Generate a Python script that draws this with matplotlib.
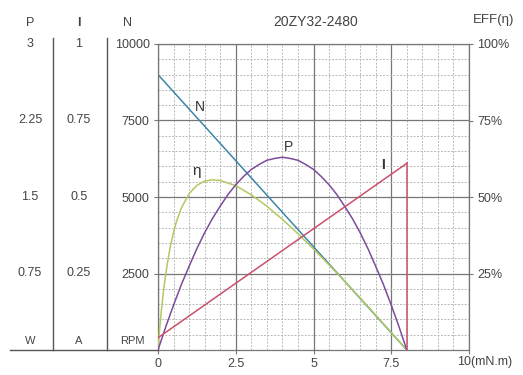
import matplotlib.pyplot as plt
import matplotlib.transforms as mtransforms
import numpy as np

plt.rcParams['font.family'] = ['Liberation Sans', 'DejaVu Sans']

###############################################################################
# Data
###############################################################################
title = '20ZY32-2480'

# torque (mN.m) for speed / current lines
torque_lin = [0, 8]
speed_rpm = [9000, 0]
current_a = [0.04, 0.61]

# output power curve (W)
torque_p = [0, 0.25, 0.5, 0.75, 1, 1.25, 1.5, 1.75, 2, 2.25, 2.5, 2.75, 3,
            3.25, 3.5, 3.75, 4, 4.25, 4.5, 4.75, 5, 5.25, 5.5, 5.75, 6, 6.25,
            6.5, 6.75, 7, 7.25, 7.5, 7.75, 8]
power_w = [0, 0.228, 0.44, 0.641, 0.82, 0.994, 1.15, 1.289, 1.41, 1.524, 1.62,
           1.701, 1.77, 1.819, 1.86, 1.878, 1.89, 1.878, 1.86, 1.819, 1.77,
           1.701, 1.62, 1.524, 1.41, 1.289, 1.15, 0.994, 0.82, 0.641, 0.44,
           0.228, 0]

# efficiency curve (%)
torque_eff = [0, 0.05, 0.1, 0.15, 0.2, 0.3, 0.4, 0.5, 0.6, 0.75, 1, 1.25, 1.5,
              1.75, 2, 2.5, 3, 3.5, 4, 4.5, 5, 5.5, 6, 6.5, 7, 7.5, 8]
eff_pct = [0, 6.5, 12.0, 16.9, 21.2, 28.3, 34.0, 38.5, 42.2, 46.4, 51.1, 53.8,
           55.2, 55.6, 55.4, 53.7, 50.7, 47.0, 42.7, 38.0, 33.0, 27.8, 22.5,
           17.0, 11.4, 5.7, 0]

x_ticks = [0, 2.5, 5, 7.5, 10]
x_labels = ['0', '2.5', '5', '7.5', '']
n_ticks = [2500, 5000, 7500, 10000]
p_labels = ['0.75', '1.5', '2.25', '3']
i_labels = ['0.25', '0.5', '0.75', '1']
eff_ticks = [25, 50, 75, 100]
eff_labels = ['25%', '50%', '75%', '100%']

###############################################################################
# Figure
###############################################################################
txt = '#444444'
fig = plt.figure(figsize=(5.23, 3.75), dpi=100)
ax = fig.add_axes([158 / 523, 25 / 375, 311 / 523, 306 / 375])

ax.set_xlim(0, 10)
ax.set_ylim(0, 10000)
ax.set_xticks(x_ticks)
ax.set_xticklabels(x_labels)
ax.set_xticks(np.arange(0, 10.01, 0.5), minor=True)
ax.set_yticks(n_ticks)
ax.set_yticks(np.arange(0, 10001, 500), minor=True)
ax.tick_params(axis='both', which='major', length=3, color='#777777',
               labelsize=9, labelcolor=txt, pad=3)
ax.tick_params(axis='both', which='minor', length=0)
ax.grid(which='major', color='#777777', lw=0.9)
ax.grid(which='minor', color='#b8b8b8', lw=0.7, ls=(0, (2, 1.5)))
for s in ax.spines.values():
    s.set_color('#777777')
    s.set_linewidth(0.9)
ax.set_axisbelow(True)

ax.annotate('10(mN.m)', xy=(10, 0), xytext=(-8.5, -4), textcoords='offset points',
            ha='left', va='top', fontsize=9, color=txt)

# right efficiency axis
ax_e = ax.twinx()
ax_e.set_ylim(0, 100)
ax_e.set_yticks(eff_ticks)
ax_e.set_yticklabels(eff_labels)
ax_e.tick_params(axis='y', length=3, color='#777777', labelsize=9,
                 labelcolor=txt, pad=3)
for s in ax_e.spines.values():
    s.set_visible(False)

# hidden axes for power and current scales
ax_p = ax.twinx()
ax_p.set_ylim(0, 3)
ax_p.axis('off')
ax_i = ax.twinx()
ax_i.set_ylim(0, 1)
ax_i.axis('off')

# curves
ax.plot(torque_lin, speed_rpm, color='#3d86a8', lw=1.1)
ax_p.plot(torque_p, power_w, color='#7d4b9c', lw=1.1)
ax_i.plot(torque_lin, current_a, color='#c9506a', lw=1.1)
ax_i.plot([torque_lin[1], torque_lin[1]], [current_a[1], 0],
          color='#c9506a', lw=1.1)
ax_e.plot(torque_eff, eff_pct, color='#b3c862', lw=1.1)

ax.text(1.35, 7950, 'N', fontsize=10, color='#333333', ha='center', va='center')
ax.text(4.2, 6650, 'P', fontsize=10, color='#333333', ha='center', va='center')
ax.text(1.25, 5850, 'η', fontsize=11, color='#333333', ha='center', va='center')
ax.text(7.25, 6050, 'I', fontsize=10, color='#333333', ha='center', va='center',
        fontweight='bold')

# titles
fig.text(316 / 523, 1 - 22 / 375, title, fontsize=10, color=txt,
         ha='center', va='center')
fig.text(494 / 523, 1 - 20 / 375, 'EFF(η)', fontsize=9.5, color=txt,
         ha='center', va='center')

# left columns
trans = mtransforms.blended_transform_factory(fig.transFigure, ax.transData)
fig.text(30 / 523, 1 - 23 / 375, 'P', fontsize=9, color=txt, ha='center', va='center')
fig.text(79 / 523, 1 - 23 / 375, 'I', fontsize=9, color=txt, ha='center', va='center',
         fontweight='bold')
fig.text(128 / 523, 1 - 23 / 375, 'N', fontsize=9, color=txt, ha='center', va='center')
for y, pl, il in zip(n_ticks, p_labels, i_labels):
    ax.text(30 / 523, y, pl, transform=trans, fontsize=9, color=txt,
            ha='center', va='center')
    ax.text(79 / 523, y, il, transform=trans, fontsize=9, color=txt,
            ha='center', va='center')
ax.text(30 / 523, 300, 'W', transform=trans, fontsize=8, color=txt,
        ha='center', va='center')
ax.text(79 / 523, 300, 'A', transform=trans, fontsize=8, color=txt,
        ha='center', va='center')
ax.text(132 / 523, 300, 'RPM', transform=trans, fontsize=8, color=txt,
        ha='center', va='center')

fig.add_artist(plt.Line2D([10 / 523, 158 / 523], [25 / 375, 25 / 375],
                          color='#555555', lw=1))
for xs in [53, 107]:
    fig.add_artist(plt.Line2D([xs / 523, xs / 523], [25 / 375, 1 - 38 / 375],
                              color='#555555', lw=1))

fig.savefig('out.png', dpi=100)
